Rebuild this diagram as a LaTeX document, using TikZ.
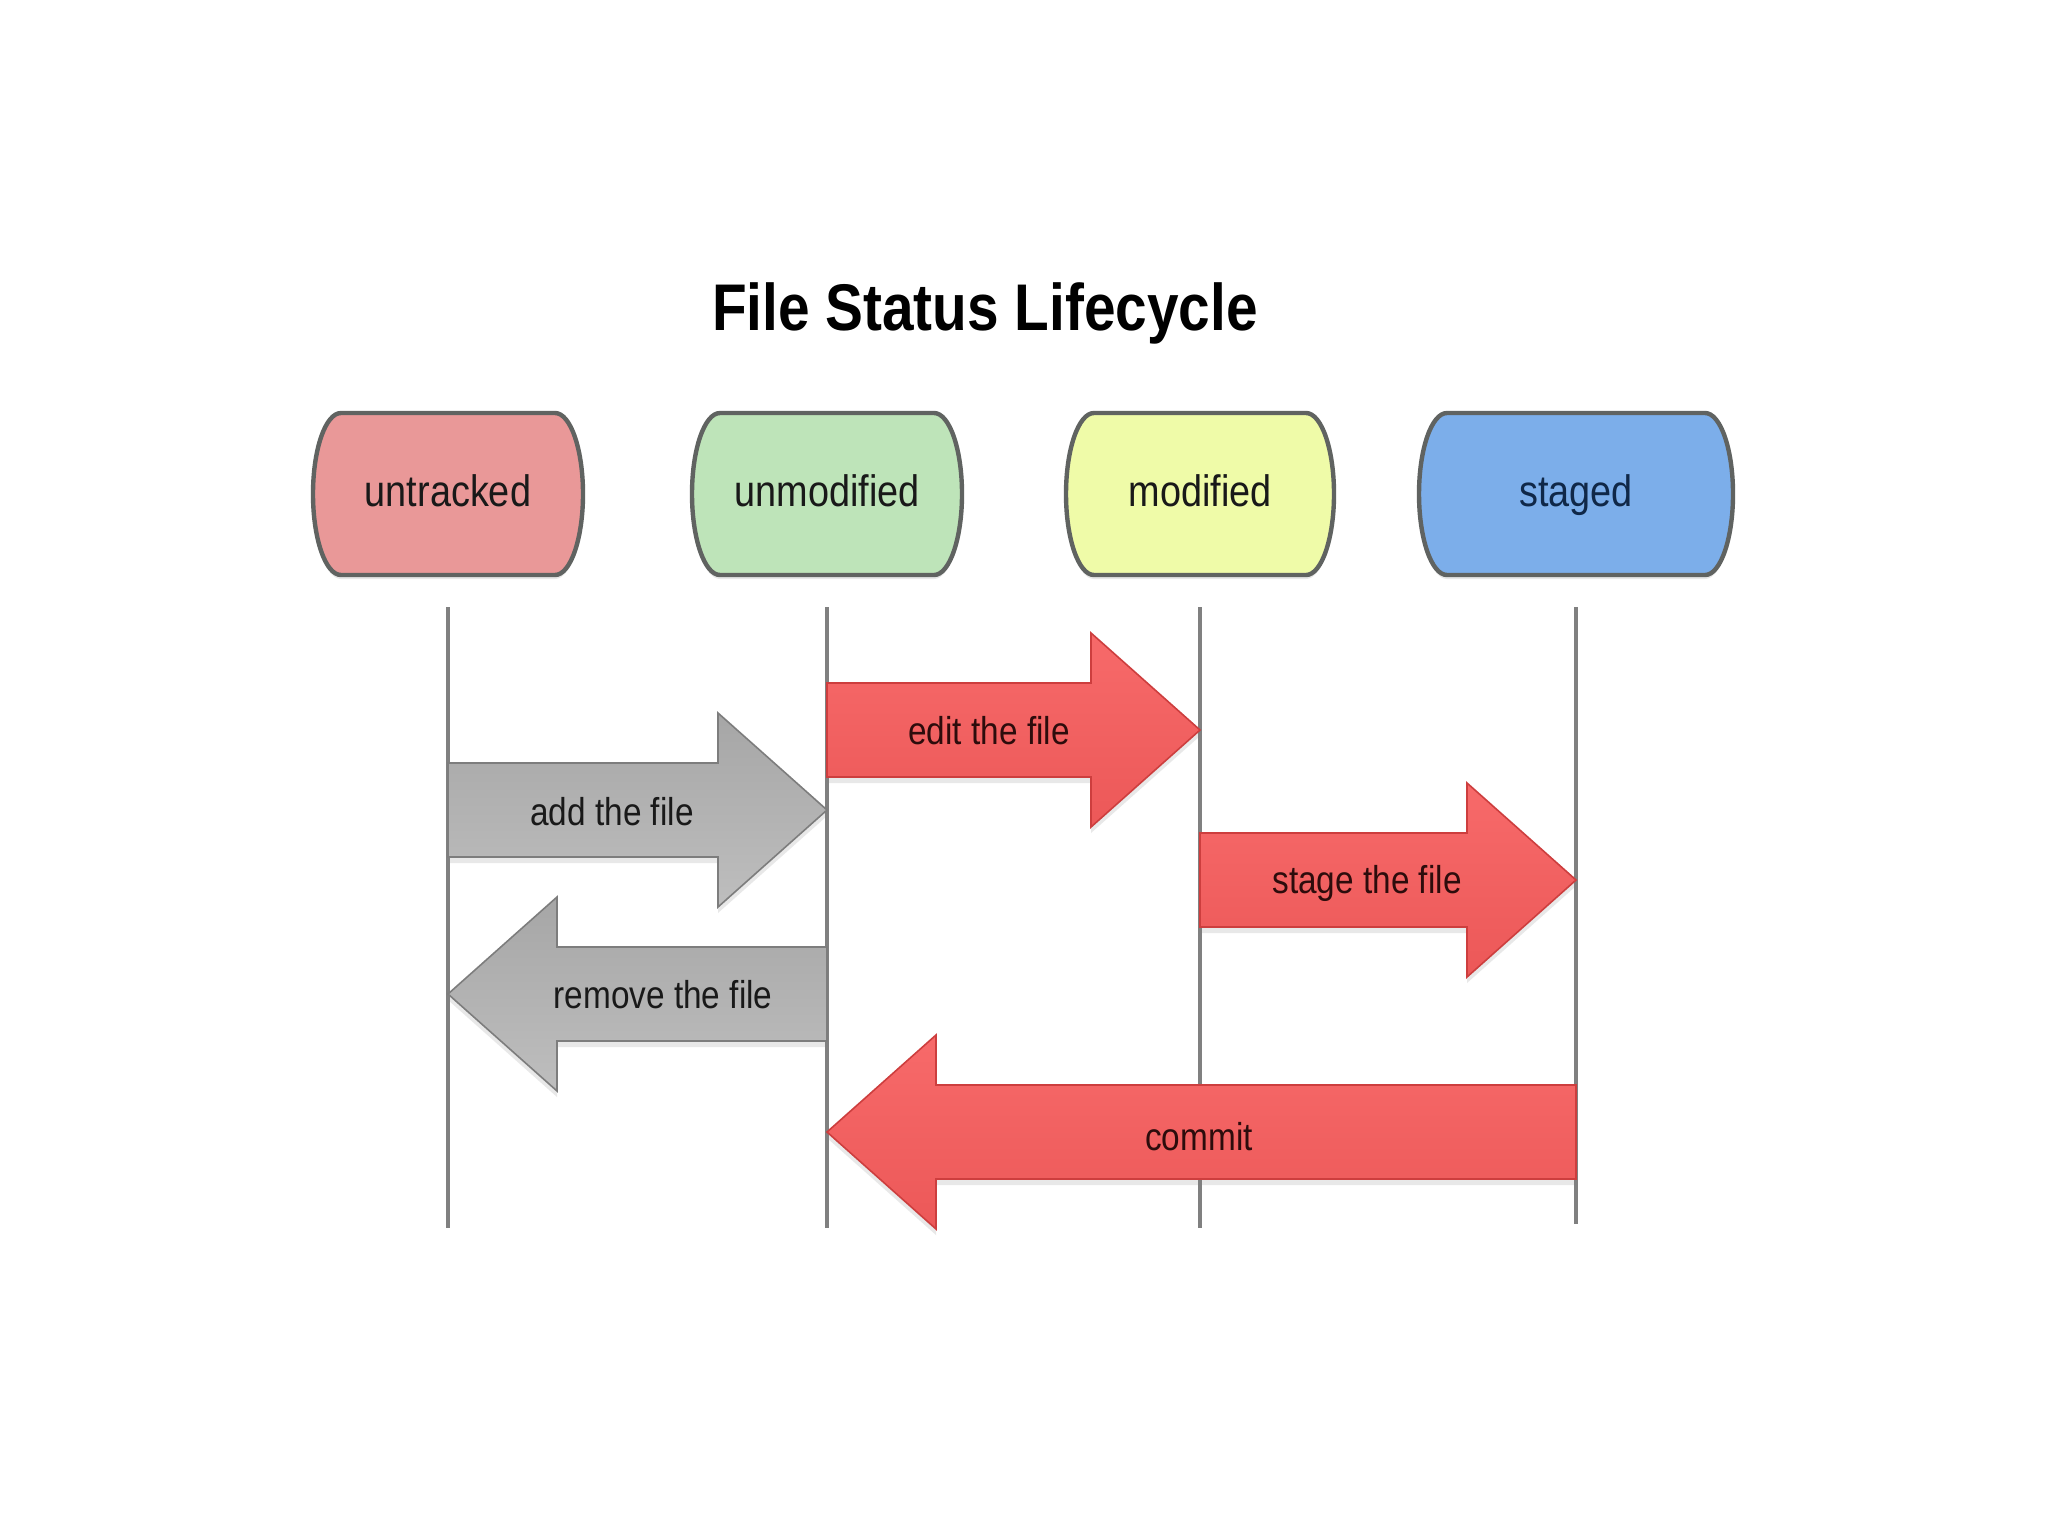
\documentclass[tikz,border=0pt]{standalone}
\usepackage{fontspec}
\newfontfamily\lblfont[FakeStretch=0.86]{Liberation Sans}
\usetikzlibrary{calc,shadows,backgrounds}
\pgfdeclarelayer{paper}
\pgfsetlayers{paper,background,main}
\definecolor{nodeborder}{RGB}{96,99,97}
\definecolor{untrackedfill}{RGB}{233,152,152}
\definecolor{unmodfill}{RGB}{190,228,185}
\definecolor{modfill}{RGB}{239,251,168}
\definecolor{stagedfill}{RGB}{124,174,234}
\definecolor{lifegray}{RGB}{128,128,128}
\definecolor{redtop}{RGB}{247,106,106}
\definecolor{redbot}{RGB}{236,88,88}
\definecolor{redborder}{RGB}{205,62,62}
\definecolor{graytop}{RGB}{166,166,166}
\definecolor{graybot}{RGB}{190,190,190}
\definecolor{grayborder}{RGB}{125,125,125}
\definecolor{redtext}{RGB}{45,12,12}
\definecolor{stagedtext}{RGB}{16,40,72}
\definecolor{darktext}{RGB}{25,25,25}
\newcommand\barrel[3]{%
  \begin{scope}[shift={(#1.center)}]
    \path[barrelline, fill=#3] (-#2+28,-81) -- (#2-28,-81)
      .. controls (#2-12.5,-81) and (#2,-44.7) .. (#2,0)
      .. controls (#2,44.7) and (#2-12.5,81) .. (#2-28,81)
      -- (-#2+28,81)
      .. controls (-#2+12.5,81) and (-#2,44.7) .. (-#2,0)
      .. controls (-#2,-44.7) and (-#2+12.5,-81) .. (-#2+28,-81) -- cycle;
  \end{scope}}
\newcommand\rblock[4]{%
  \path[#1] (#2,#4-47) -- (#3-109,#4-47) -- (#3-109,#4-97) -- (#3,#4)
    -- (#3-109,#4+97) -- (#3-109,#4+47) -- (#2,#4+47) -- cycle;}
\newcommand\lblock[4]{%
  \path[#1] (#3,#4-47) -- (#2+109,#4-47) -- (#2+109,#4-97) -- (#2,#4)
    -- (#2+109,#4+97) -- (#2+109,#4+47) -- (#3,#4+47) -- cycle;}
\begin{document}
\begin{tikzpicture}[x=0.5pt,y=-0.5pt,
  statebox/.style={minimum height=81pt, inner sep=0pt, text height=16pt, text depth=4pt,
    font=\lblfont\fontsize{22}{26}\selectfont},
  barrelline/.style={draw=nodeborder, line width=2.2pt,
    drop shadow={shadow xshift=0pt, shadow yshift=-2pt, opacity=0.18}},
  lifeline/.style={draw=lifegray, line width=1.6pt},
  blockred/.style={draw=redborder, line width=0.8pt, top color=redtop, bottom color=redbot,
    drop shadow={shadow xshift=0pt, shadow yshift=-3pt, opacity=0.18}},
  blockgray/.style={draw=grayborder, line width=0.8pt, top color=graytop, bottom color=graybot,
    drop shadow={shadow xshift=0pt, shadow yshift=-3pt, opacity=0.18}},
  arrowlbl/.style={font=\lblfont\fontsize{19.4}{23}\selectfont, inner sep=0pt}]
\begin{pgfonlayer}{paper}
\fill[white] (0,0) rectangle (2048,1536);
\end{pgfonlayer}
\useasboundingbox (0,0) rectangle (2048,1536);
\def\xa{448}\def\xb{827}\def\xc{1200}\def\xd{1576}
% title
\node[font=\lblfont\bfseries\fontsize{33}{40}\selectfont, text=black] (title) at (985,313) {File Status Lifecycle};
% state nodes
\node[statebox, minimum width=135pt, text=darktext] (untracked) at (\xa,494) {untracked};
\node[statebox, minimum width=135pt, text=darktext] (unmodified) at (\xb,494) {unmodified};
\node[statebox, minimum width=134pt, text=darktext] (modified) at (\xc,494) {modified};
\node[statebox, minimum width=157pt, text=stagedtext] (staged) at (\xd,494) {staged};
\begin{scope}[on background layer]
  \barrel{untracked}{135}{untrackedfill}
  \barrel{unmodified}{135}{unmodfill}
  \barrel{modified}{134}{modfill}
  \barrel{staged}{157}{stagedfill}
\end{scope}
% lifelines
\draw[lifeline] ($(untracked.south)+(0,32)$) -- ($(untracked.south)+(0,653)$);
\draw[lifeline] ($(unmodified.south)+(0,32)$) -- ($(unmodified.south)+(0,653)$);
\draw[lifeline] ($(modified.south)+(0,32)$) -- ($(modified.south)+(0,653)$);
\draw[lifeline] ($(staged.south)+(0,32)$) -- ($(staged.south)+(0,649)$);
% block arrows
\rblock{blockgray}{\xa}{\xb}{810}
\rblock{blockred}{\xb}{\xc}{730}
\rblock{blockred}{\xc}{\xd}{880}
\lblock{blockgray}{\xa}{\xb}{994}
\lblock{blockred}{\xb}{\xd}{1132}
% labels
\node[arrowlbl, text=darktext] (addlbl) at (612,812) {add the file};
\node[arrowlbl, text=redtext] (editlbl) at (989,731) {edit the file};
\node[arrowlbl, text=redtext] (stagelbl) at (1367,883) {stage the file};
\node[arrowlbl, text=darktext] (removelbl) at (663,995) {remove the file};
\node[arrowlbl, text=redtext] (commitlbl) at (1199,1137) {commit};
\end{tikzpicture}
\end{document}
